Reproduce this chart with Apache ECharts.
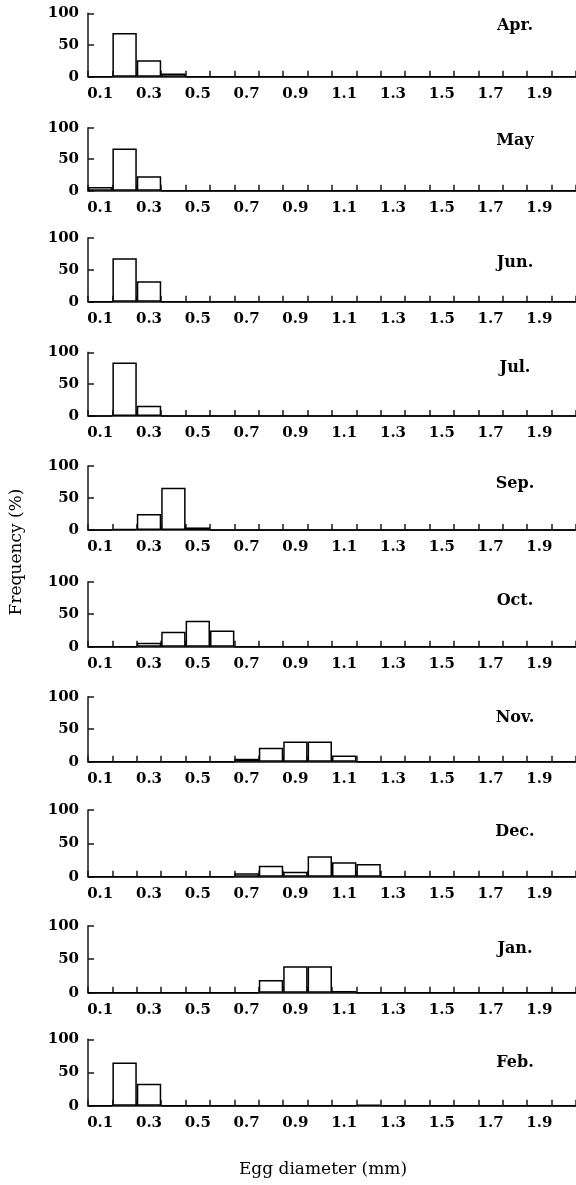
<!DOCTYPE html>
<html>
<head>
<meta charset="utf-8">
<script src="https://cdn.jsdelivr.net/npm/echarts@6/dist/echarts.min.js"></script>
<style>
  html, body { margin: 0; padding: 0; background: #fff; }
  #chart { width: 576px; height: 1185px; }
</style>
</head>
<body>
<div id="chart"></div>
<script>
// egg diameter classes (mm)
const diameters = ['0.1', '0.2', '0.3', '0.4', '0.5', '0.6', '0.7', '0.8', '0.9', '1.0',
                   '1.1', '1.2', '1.3', '1.4', '1.5', '1.6', '1.7', '1.8', '1.9', '2.0'];

const months = ['Apr.', 'May', 'Jun.', 'Jul.', 'Sep.', 'Oct.', 'Nov.', 'Dec.', 'Jan.', 'Feb.'];

// frequency (%) per diameter class
const aprFreq = [0, 69, 26, 5, 0, 0, 0, 0, 0, 0, 0, 0, 0, 0, 0, 0, 0, 0, 0, 0];
const mayFreq = [6, 67, 23, 0, 0, 0, 0, 0, 0, 0, 0, 0, 0, 0, 0, 0, 0, 0, 0, 0];
const junFreq = [0, 68, 32, 0, 0, 0, 0, 0, 0, 0, 0, 0, 0, 0, 0, 0, 0, 0, 0, 0];
const julFreq = [0, 84, 16, 0, 0, 0, 0, 0, 0, 0, 0, 0, 0, 0, 0, 0, 0, 0, 0, 0];
const sepFreq = [0, 1.5, 25, 66, 4, 0, 0, 0, 0, 0, 0, 0, 0, 0, 0, 0, 0, 0, 0, 0];
const octFreq = [0, 0, 6, 23, 40, 25, 0, 0, 0, 0, 0, 0, 0, 0, 0, 0, 0, 0, 0, 0];
const novFreq = [0, 0, 0, 0, 0, 0, 4.5, 21.5, 31, 31, 9.5, 0, 0, 0, 0, 0, 0, 0, 0, 0];
const decFreq = [0, 0, 0, 0, 0, 0, 5, 16.5, 7.5, 30.5, 21.5, 19, 0, 0, 0, 0, 0, 0, 0, 0];
const janFreq = [0, 0, 0, 0, 0, 0, 0, 19, 39.5, 39.5, 2.5, 0, 0, 0, 0, 0, 0, 0, 0, 0];
const febFreq = [0, 65, 33, 0, 0, 0, 0, 0, 0, 0, 0, 1.5, 0, 0, 0, 0, 0, 0, 0, 0];

const monthData = [aprFreq, mayFreq, junFreq, julFreq, sepFreq, octFreq, novFreq, decFreq, janFreq, febFreq];

const yTicks = [0, 50, 100];

// panel layout: pixel y of the 100 line and the 0 line, and month label y
const panelTop =    [13.3, 127.7, 237.7, 352.3, 466, 581.7, 696.7, 810, 925.7, 1039.3];
const panelBottom = [76.7, 190.7, 301.7, 416, 530, 646.7, 761.7, 876.7, 992.7, 1105.7];
const labelY =      [26, 141, 263, 368, 484, 601, 718, 832, 949, 1063];

const FONT = 'DejaVu Serif';
const INK = '#1a1a1a';

const grids = [], xAxes = [], yAxes = [], series = [], graphics = [];

months.forEach((m, i) => {
    grids.push({
        left: 88,
        right: 0,
        top: panelTop[i],
        height: panelBottom[i] - panelTop[i]
    });
    xAxes.push({
        type: 'category',
        gridIndex: i,
        data: diameters,
        boundaryGap: true,
        axisLine: { show: true, lineStyle: { color: INK, width: 1.5 } },
        axisTick: {
            show: true, inside: true, length: 6, interval: 0, alignWithLabel: false,
            lineStyle: { color: INK, width: 1.5 }
        },
        axisLabel: {
            show: true, interval: 1, margin: 10, color: '#000',
            fontFamily: FONT, fontSize: 15, fontWeight: 'bold'
        }
    });
    yAxes.push({
        type: 'value',
        gridIndex: i,
        min: yTicks[0],
        max: yTicks[yTicks.length - 1],
        interval: 50,
        splitLine: { show: false },
        axisLine: { show: true, lineStyle: { color: INK, width: 1.5 } },
        axisTick: { show: true, inside: true, length: 6, lineStyle: { color: INK, width: 1.5 } },
        axisLabel: {
            margin: 9, color: '#000', fontFamily: FONT, fontSize: 15, fontWeight: 'bold'
        }
    });
    series.push({
        type: 'bar',
        xAxisIndex: i,
        yAxisIndex: i,
        data: monthData[i],
        barCategoryGap: '0%',
        itemStyle: { color: '#fff', borderColor: '#000', borderWidth: 1.5 },
        silent: true,
        animation: false
    });
    graphics.push({
        type: 'text',
        x: 515,
        y: labelY[i],
        style: {
            text: m,
            font: 'bold 16px "' + FONT + '"',
            fill: '#000',
            align: 'center',
            verticalAlign: 'middle'
        }
    });
});

graphics.push({
    type: 'text',
    x: 17,
    y: 552,
    rotation: Math.PI / 2,
    style: {
        text: 'Frequency (%)',
        font: '17px "' + FONT + '"',
        fill: '#000',
        align: 'center',
        verticalAlign: 'middle'
    }
});
graphics.push({
    type: 'text',
    x: 323,
    y: 1170,
    style: {
        text: 'Egg diameter (mm)',
        font: '17px "' + FONT + '"',
        fill: '#000',
        align: 'center',
        verticalAlign: 'middle'
    }
});

const chart = echarts.init(document.getElementById('chart'));
chart.setOption({
    animation: false,
    backgroundColor: '#fff',
    grid: grids,
    xAxis: xAxes,
    yAxis: yAxes,
    series: series,
    graphic: graphics
});
</script>
</body>
</html>
